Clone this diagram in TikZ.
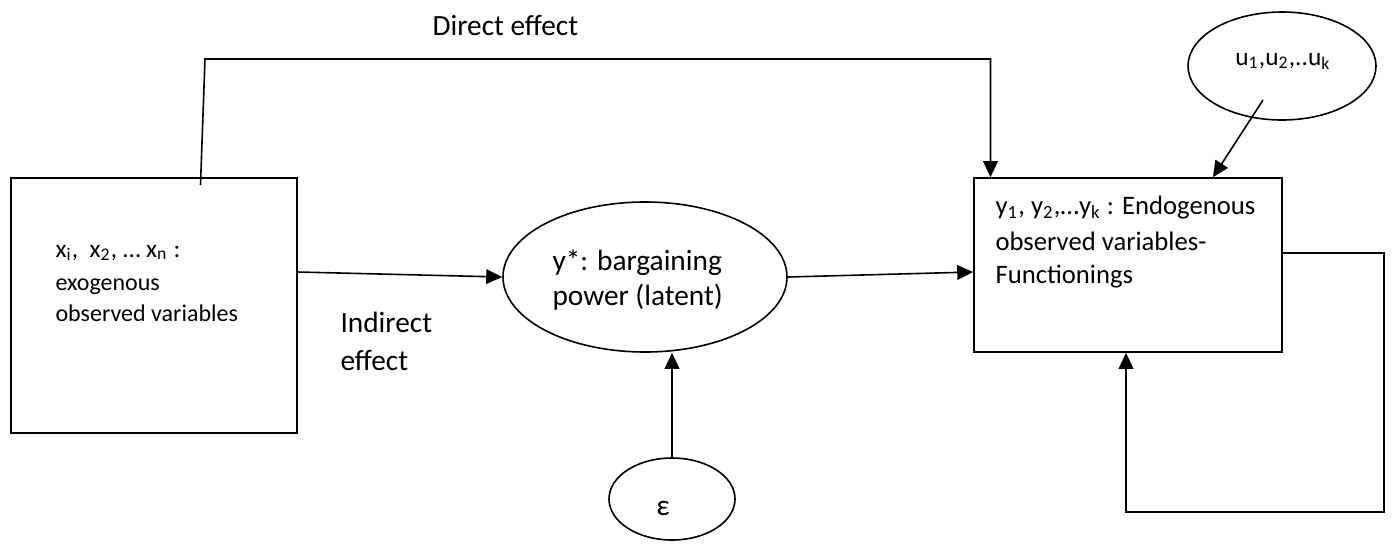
\documentclass[tikz,border=0pt]{standalone}
\usepackage{fontspec}
\setmainfont{Carlito}
\usetikzlibrary{shapes.geometric,arrows.meta}

\begin{document}
\begin{tikzpicture}[x=0.375pt,y=-0.375pt,
	box/.style={draw,line width=0.6pt,inner sep=0},
	oval/.style={ellipse,draw,line width=0.6pt,inner sep=0},
	lbl/.style={inner sep=0,anchor=base west,font=\fontsize{11}{13}\selectfont},
	mid/.style={lbl,font=\fontsize{10}{12}\selectfont},
	small/.style={lbl,font=\fontsize{9}{11}\selectfont},
	arr/.style={line width=0.6pt,-{Triangle[length=6pt,width=5.5pt]}}]
	\useasboundingbox (0,0) rectangle (1392,544);

	% boxes and ovals
	\node[box,minimum width=107.25pt,minimum height=95.625pt] (xbox) at (154,305.5) {};
	\node[box,minimum width=115.5pt,minimum height=65.25pt] (ybox) at (1128,265) {};
	\node[oval,minimum width=106.5pt,minimum height=56.25pt] (latent) at (645,277) {};
	\node[oval,minimum width=70.5pt,minimum height=40.5pt] (uerr) at (1282,66) {};
	\node[oval,minimum width=47.25pt,minimum height=30.75pt] (eps) at (672,499) {};

	% texts
	\node[lbl,font=\fontsize{9.5}{12}\selectfont] (xtxt) at (55,257) {x\textsubscript{i},\ \ x\textsubscript{2}, … x\textsubscript{n} :};
	\node[small] (xtxtb) at (55,290) {exogenous};
	\node[small] (xtxtc) at (55,321) {observed variables};
	\node[lbl] (ltxt) at (552,270) {y*: bargaining};
	\node[lbl] (ltxtb) at (552,305) {power (latent)};
	\node[mid] (ytxt) at (995,214) {y\textsubscript{1}, y\textsubscript{2},…y\textsubscript{k} : Endogenous};
	\node[mid] (ytxtb) at (995,250) {observed variables-};
	\node[mid] (ytxtc) at (995,283) {Functionings};
	\node[lbl,font=\fontsize{9.5}{12}\selectfont,anchor=base] (utxt) at (1283,65) {u\textsubscript{1},u\textsubscript{2},..u\textsubscript{k}};
	\node[lbl,anchor=base] (etxt) at (663,515) {ε};
	\node[lbl] (dlbl) at (432,35) {Direct effect};
	\node[lbl] (ilbl) at (340,332) {Indirect};
	\node[lbl] (ilblb) at (340,370) {effect};

	% direct effect
	\coordinate (d0) at (200.5,185);
	\coordinate (d1) at (205,59);
	\coordinate (d2) at (990.5,59);
	\draw[arr] (d0) -- (d1) -- (d2) -- (d2 |- ybox.north);

	% indirect path
	\draw[arr] (xbox.east |- 0,272) -- (latent.west);
	\draw[arr] (latent.east) -- (ybox.west |- 0,272);
	\draw[arr] (eps.north) -- (eps.north |- latent.south);

	% error on y
	\coordinate (u0) at (1263,100);
	\draw[arr] (u0) -- (1213,0 |- ybox.north);

	% feedback loop
	\coordinate (f1) at (1384,253);
	\coordinate (f2) at (1384,512);
	\coordinate (f3) at (1126,512);
	\draw[arr] (ybox.east |- f1) -- (f1) -- (f2) -- (f3) -- (f3 |- ybox.south);
\end{tikzpicture}
\end{document}
